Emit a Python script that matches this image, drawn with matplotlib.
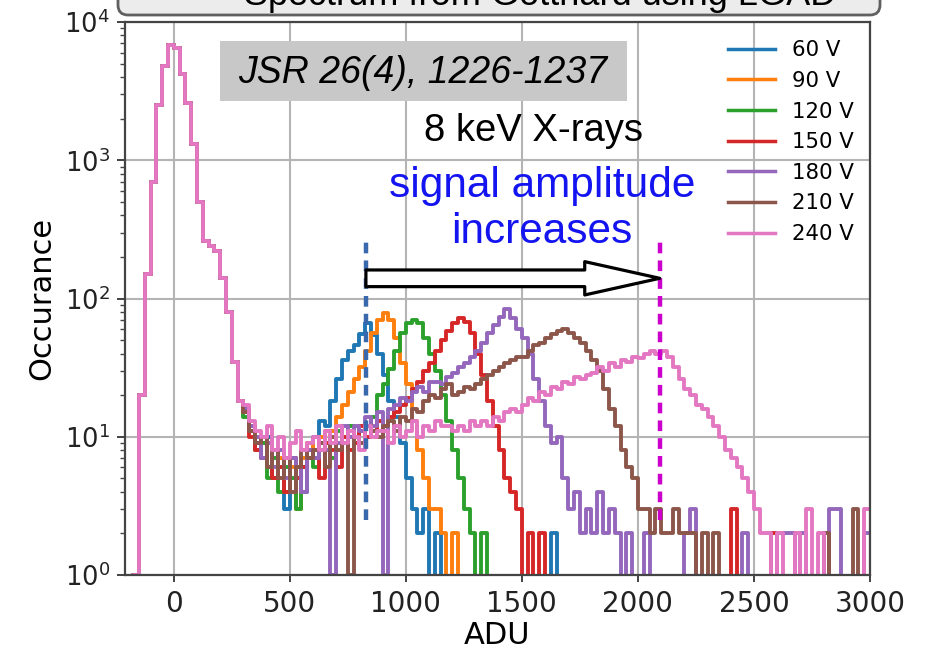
import numpy as np
import matplotlib
matplotlib.use('Agg')
import matplotlib.pyplot as plt
from matplotlib.patches import FancyArrowPatch, FancyBboxPatch, Rectangle

# histogram grid: 25 ADU bins from -200 to 3000
bin_lo, bin_hi, bin_w = -200, 3000, 25

# pedestal (noise peak) bins -200 ... 275, common to all bias voltages
pedestal = [0, 1, 20, 150, 700, 2500, 4800, 6800, 6500, 4200,
            2600, 1300, 500, 260, 240, 220, 140, 80, 35, 18]

# bins 300 ... 2975 for each bias voltage
tail_60 = [16, 12, 9, 7, 10, 5, 6, 3, 7, 5, 4, 8,
           10, 13, 12, 18, 26, 36, 42, 46, 55, 66, 54, 40,
           28, 18, 14, 9, 5, 3, 2, 3, 0, 2, 0, 0,
           0, 0, 0, 0, 0, 0, 0, 0, 0, 0, 0, 0,
           0, 0, 0, 0, 0, 2, 0, 0, 0, 0, 0, 0] + [0] * 48
tail_90 = [15, 11, 8, 9, 6, 5, 7, 4, 6, 3, 7, 9,
           8, 10, 11, 11, 14, 17, 21, 26, 32, 42, 56, 70,
           78, 70, 52, 34, 24, 13, 8, 5, 3, 3, 2, 0,
           2, 0, 0, 0, 0, 0, 0, 0, 0, 0, 0, 0,
           0, 0, 0, 0, 0, 0, 0, 0, 0, 0, 0, 0] + [0] * 48
tail_120 = [14, 12, 8, 9, 5, 7, 4, 6, 5, 3, 6, 7,
            6, 8, 9, 7, 11, 9, 12, 10, 11, 12, 14, 20,
            24, 31, 42, 56, 66, 70, 66, 52, 40, 30, 20, 13,
            8, 5, 3, 2, 0, 2, 0, 0, 0, 0, 0, 0,
            0, 0, 0, 0, 0, 0, 0, 0, 0, 0, 0, 0] + [0] * 48
tail_150 = [15, 10, 8, 7, 9, 5, 6, 4, 7, 5, 6, 8,
            7, 5, 9, 8, 6, 10, 8, 9, 12, 10, 11, 13,
            12, 14, 15, 17, 19, 22, 25, 30, 34, 42, 50, 58,
            66, 72, 68, 56, 40, 28, 18, 12, 8, 5, 4, 3,
            0, 2, 0, 2, 0, 0, 0, 0, 0, 0, 0, 0,
            0, 0, 0, 0, 0, 0, 0, 0, 0, 0, 0, 0,
            0, 0, 0, 0, 0, 0, 0, 0, 0, 0, 0, 0,
            3, 0, 0, 0, 0, 0, 0, 2, 0, 0, 0, 0,
            0, 0, 0, 0, 0, 0, 0, 0, 0, 0, 0, 0]
tail_180 = [16, 12, 10, 7, 9, 6, 8, 5, 7, 6, 4, 8,
            7, 9, 8, 1, 9, 12, 10, 12, 11, 14, 12, 15,
            1, 16, 17, 19, 18, 21, 23, 21, 25, 25, 24, 27,
            29, 32, 34, 38, 42, 48, 56, 64, 74, 84, 72, 60,
            52, 40, 26, 18, 12, 9, 10, 5, 3, 4, 2, 3,
            2, 4, 2, 3, 2, 0, 2, 0, 0, 2, 0, 0,
            0, 0, 0, 0, 2, 3, 0, 0, 0, 0, 0, 0,
            0, 0, 2, 0, 0, 0, 0, 0, 2, 2, 2, 0,
            2, 0, 0, 0, 0, 3, 3, 0, 0, 0, 0, 2]
tail_210 = [15, 11, 9, 10, 6, 8, 5, 7, 4, 6, 8, 7,
            8, 9, 6, 10, 8, 9, 1, 10, 9, 12, 11, 10,
            12, 13, 11, 14, 13, 16, 15, 18, 20, 19, 22, 24,
            20, 21, 23, 22, 24, 26, 28, 30, 32, 34, 36, 38,
            38, 42, 46, 48, 52, 55, 58, 60, 56, 52, 48, 42,
            36, 30, 22, 16, 12, 8, 6, 5, 3, 3, 2, 3,
            2, 2, 3, 2, 2, 2, 0, 2, 0, 2, 0, 0,
            0, 0, 0, 0, 0, 0, 0, 0, 0, 0, 0, 0,
            0, 0, 0, 0, 2, 0, 0, 0, 0, 3, 0, 0]
tail_240 = [17, 13, 11, 10, 12, 8, 10, 7, 9, 11, 8, 9,
            10, 8, 11, 9, 12, 9, 11, 10, 8, 12, 10, 11,
            11, 9, 12, 10, 11, 13, 10, 12, 11, 13, 12, 12,
            11, 12, 11, 13, 12, 13, 12, 14, 13, 15, 16, 15,
            17, 19, 18, 21, 20, 23, 22, 25, 24, 27, 26, 28,
            29, 32, 30, 34, 32, 36, 35, 38, 37, 40, 42, 40,
            42, 38, 32, 26, 22, 20, 17, 16, 14, 12, 10, 8,
            7, 6, 5, 4, 3, 2, 2, 0, 2, 0, 0, 2,
            0, 3, 0, 2, 0, 0, 0, 0, 0, 0, 0, 3]

voltages = ['60 V', '90 V', '120 V', '150 V', '180 V', '210 V', '240 V']
tails = [tail_60, tail_90, tail_120, tail_150, tail_180, tail_210, tail_240]
colors = ['#1f77b4', '#ff7f0e', '#2ca02c', '#d62728', '#9467bd', '#8c564b', '#e377c2']

# peak positions marked by dashed lines (60 V and 240 V)
peak_first, peak_last = 828, 2094

fig = plt.figure(figsize=(9.29, 6.53), dpi=100)
ax = fig.add_axes([125/929, 78/653, 745/929, 553/653])

edges = np.arange(bin_lo, bin_hi + 1, bin_w)
for lab, tail, c in zip(voltages, tails, colors):
    counts = np.array(pedestal + tail, dtype=float)
    ax.plot(edges, np.append(counts, counts[-1]), drawstyle='steps-post',
            color=c, lw=2.8, label=lab)

ax.set_yscale('log', nonpositive='clip')
ax.set_xlim(-210, 3000)
ax.set_ylim(1, 1e4)
ax.set_xticks([0, 500, 1000, 1500, 2000, 2500, 3000])
ax.grid(True, which='major', color='#b4b4b4', lw=1.5)
ax.set_axisbelow(True)
for s in ax.spines.values():
    s.set_color('#444444')
    s.set_linewidth(1.6)
ax.tick_params(axis='x', labelsize=20, length=5, width=1.2, pad=6, colors='#222222')
ax.tick_params(axis='y', which='major', labelsize=18.5, length=6, width=1.2, pad=5, colors='#222222')
ax.tick_params(axis='y', which='minor', length=3.5, width=1.0, colors='#444444')
ax.set_xlabel('ADU', fontsize=22, labelpad=2)
ax.set_ylabel('Occurance', fontsize=22, labelpad=6)

leg = ax.legend(loc='upper right', bbox_to_anchor=(0.995, 0.99), frameon=False,
                fontsize=15.3, labelspacing=0.5, handlelength=2.2, borderaxespad=0.2)
for h in leg.get_lines():
    h.set_linewidth(2.5)

# dashed markers at first and last peak
ax.plot([peak_first, peak_first], [2.5, 270], color='#3a68ad', lw=3.2, dashes=(2.4, 1.6))
ax.plot([peak_last, peak_last], [2.5, 270], color='#cc00cc', lw=3.2, dashes=(2.4, 1.6))

arrow = FancyArrowPatch((peak_first, 140), (peak_last, 140),
                        arrowstyle='simple,head_length=5.4,head_width=2.4,tail_width=1.2',
                        mutation_scale=10, shrinkA=0, shrinkB=0,
                        facecolor='white', edgecolor='black', lw=2.3, zorder=5)
ax.add_patch(arrow)

# reference box
ax.add_patch(Rectangle((0.1275, 0.8571), 0.5463, 0.1085, transform=ax.transAxes,
                       facecolor='#c8c8c8', edgecolor='none', zorder=4))
ax.text(0.400, 0.8897, 'JSR 26(4), 1226-1237', transform=ax.transAxes,
        ha='center', va='baseline', fontsize=27, style='italic',
        family='Liberation Sans', zorder=6)
ax.text(0.5477, 0.7848, '8 keV X-rays', transform=ax.transAxes,
        ha='center', va='baseline', fontsize=27.5, family='Liberation Sans', zorder=6)
ax.text(0.5597, 0.6835, 'signal amplitude', transform=ax.transAxes,
        ha='center', va='baseline', fontsize=30.5, color='#1414f0',
        family='Liberation Sans', zorder=6)
ax.text(0.5597, 0.6004, 'increases', transform=ax.transAxes,
        ha='center', va='baseline', fontsize=30.5, color='#1414f0',
        family='Liberation Sans', zorder=6)

# title box at the very top, cropped by the figure edge as in the slide
title_box = FancyBboxPatch((1.18, 6.38), 7.62, 0.6,
                           boxstyle='round,pad=0,rounding_size=0.1',
                           transform=fig.dpi_scale_trans, facecolor='#ececec',
                           edgecolor='#606060', lw=2)
fig.patches.append(title_box)
fig.text(540/929, 1 - 5/653, 'Spectrum from Gotthard using LGAD', ha='center',
         va='baseline', fontsize=26, family='Liberation Sans')

fig.savefig('out.png', dpi=100)
